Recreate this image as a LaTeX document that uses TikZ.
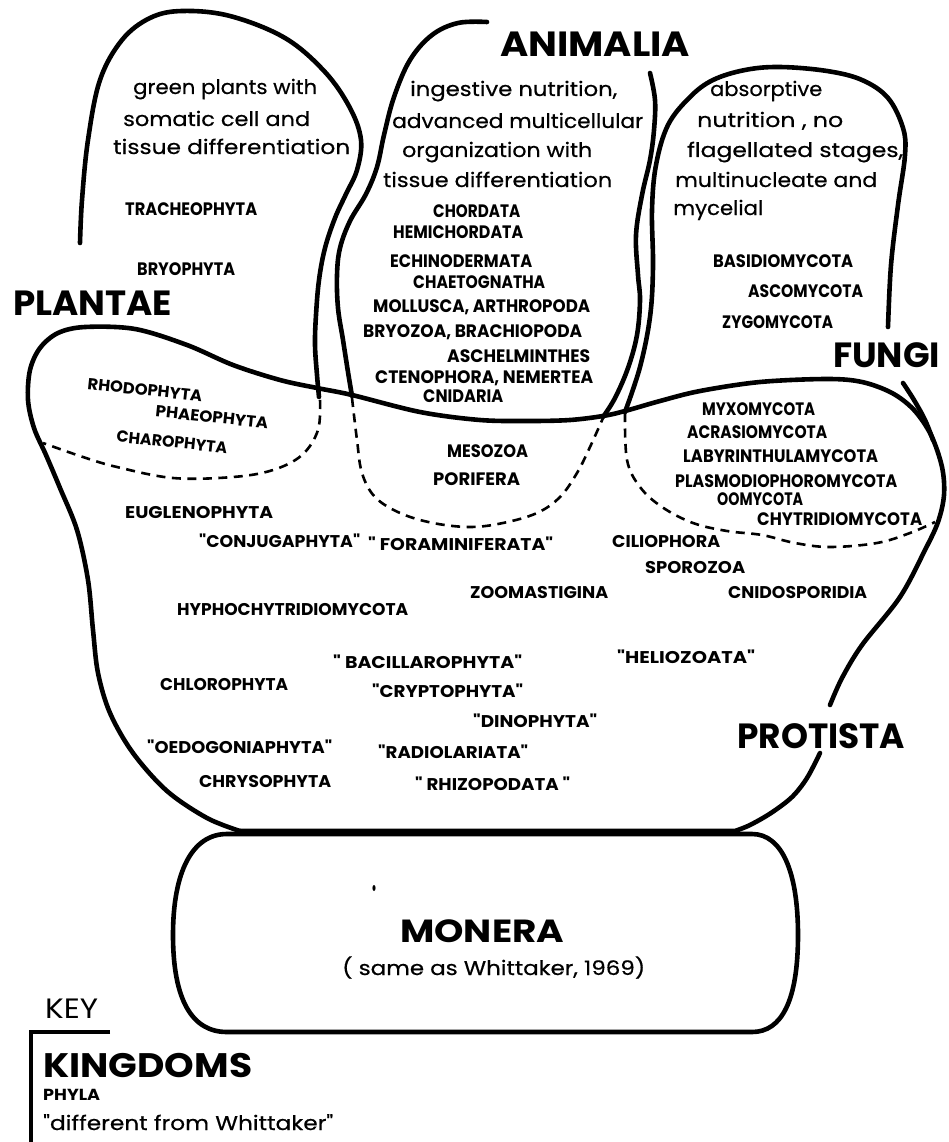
\documentclass[tikz,border=0pt]{standalone}
\usepackage{fontspec}
\usepackage{graphicx}
\newfontfamily\pop{Poppins}
\newfontfamily\popm{Poppins}[FakeBold=0.5]
\newcommand\fw[2]{\resizebox{#1pt}{\height}{#2}}
\begin{document}
\begin{tikzpicture}[x=1pt,y=-1pt,
  edge/.style={line width=4.6pt, line cap=round, line join=round},
  dsh/.style={line width=2.6pt, dash pattern=on 9pt off 6.5pt},
  kng/.style={font=\pop\bfseries\fontsize{35}{35}\selectfont, inner sep=0pt, anchor=base west},
  phy/.style={font=\pop\bfseries\fontsize{18}{18}\selectfont, inner sep=0pt, anchor=base west},
  phl/.style={font=\pop\bfseries\fontsize{17}{17}\selectfont, inner sep=0pt, anchor=base west},
  dsc/.style={font=\popm\fontsize{20}{20}\selectfont, inner sep=0pt, anchor=base west},
  tilt/.style={font=\pop\bfseries\fontsize{16}{16}\selectfont, inner sep=0pt, anchor=center, rotate=-6}]
\useasboundingbox (0,0) rectangle (948,1142);

% ---------- outlines ----------
% Plantae lobe
\draw[edge] plot[smooth, tension=0.6] coordinates {(80,243) (82,200) (88,140) (100,80) (122,40) (150,18) (182,11) (230,16) (285,38) (325,72) (350,108) (361,140) (357,170) (346,194) (335,218) (325,248) (319,280) (316,315) (315,345) (317,375) (319,397)};
% Animalia lobe
\draw[edge] plot[smooth, tension=0.6] coordinates {(487,22) (458,23) (432,35) (410,60) (394,97) (384,135) (377,167) (366,194) (350,221) (340,248) (337,275) (338,308) (343,340) (348,372) (352,396)};
\draw[edge] plot[smooth, tension=0.6] coordinates {(650,73) (655,100) (654,130) (650,160) (642,195) (636,235) (638,275) (640,300) (637,335) (628,368) (615,398) (603,417)};
% Fungi lobe
\draw[edge] plot[smooth, tension=0.6] coordinates {(625,412) (640,367) (650,317) (653,267) (652,210) (656,165) (668,125) (690,97) (713,80) (745,70) (780,67) (827,71) (862,80) (888,98) (903,128) (905,155) (898,205) (891,265) (888,327)};
\draw[edge] plot[smooth, tension=0.6] coordinates {(903,383) (914,400) (925,420) (933,440)};
% Protista
\draw[edge] plot[smooth, tension=0.55] coordinates {(240,831) (207,818) (167,791) (133,753) (110,713) (98,673) (93,630) (88,580) (77,530) (60,488) (46,455) (34,428) (28,400) (30,370) (40,348) (58,333) (85,327) (135,329) (187,345) (233,365) (280,380) (317,388) (352,395) (420,412) (480,420) (530,421) (570,420) (603,416) (625,411) (660,401) (700,391) (760,382) (827,379) (862,382) (892,393) (914,410) (931,435) (942,467) (944,495) (938,522) (925,550) (900,597) (862,645) (842,678) (830,705)};
\draw[edge] plot[smooth, tension=0.55] coordinates {(820,753) (807,778) (792,797) (771,813) (750,825) (735,831)} -- (240,831);
% Monera
\draw[edge] (227,834) -- (752,834) .. controls (782,834) and (798,872) .. (798,935) .. controls (798,1000) and (782,1032) .. (752,1032) -- (227,1032) .. controls (192,1032) and (173,1000) .. (173,935) .. controls (173,872) and (192,834) .. (227,834) -- cycle;
\fill (374,888) ellipse (1.6 and 3);

% dashed sub-boundaries
\draw[dsh] plot[smooth, tension=0.6] coordinates {(320,400) (318,430) (302,455) (273,470) (233,477) (173,478) (117,467) (83,457) (43,443)};
\draw[dsh] plot[smooth, tension=0.6] coordinates {(352,398) (357,440) (362,473) (375,497) (400,513) (433,523) (470,527) (503,523) (537,513) (560,497) (577,473) (590,447) (603,418)};
\draw[dsh] plot[smooth, tension=0.6] coordinates {(625,413) (627,460) (640,487) (662,507) (693,523) (727,531) (762,535) (795,543) (830,547) (877,543) (910,533) (935,522)};

% key bracket
\coordinate (ka) at (110,1032);
\coordinate (kb) at (31,1032);
\coordinate (kc) at (31,1145);
\draw[line width=4pt] (ka) -- (kb) -- (kc);

% ---------- kingdom names ----------
\node[kng] (plantae) at (13,315) {\fw{159}{PLANTAE}};
\node[kng] (animalia) at (500,57) {\fw{190}{ANIMALIA}};
\node[kng] (fungi) at (833,367) {\fw{107}{FUNGI}};
\node[kng] (protista) at (737,748) {\fw{168}{PROTISTA}};
\node[kng, font=\pop\bfseries\fontsize{32}{32}\selectfont] (monera) at (400,942) {\fw{164}{MONERA}};
\node[dsc] (mnote) at (342,975) {\fw{303}{( same as Whittaker, 1969)}};

% ---------- descriptions ----------
\node[dsc] (p1) at (133,94) {\fw{184}{green plants with}};
\node[dsc] (p2) at (123,126) {\fw{187}{somatic  cell and}};
\node[dsc] (p3) at (113,154) {\fw{237}{tissue  differentiation}};
\node[dsc] (a1) at (410,96) {\fw{207}{ingestive nutrition,}};
\node[dsc] (a2) at (392,128) {\fw{251}{advanced multicellular}};
\node[dsc] (a3) at (402,157) {\fw{190}{organization with}};
\node[dsc] (a4) at (383,187) {\fw{229}{tissue differentiation}};
\node[dsc] (f1) at (710,96) {\fw{112}{absorptive}};
\node[dsc] (f2) at (697,127) {\fw{146}{nutrition , no}};
\node[dsc] (f3) at (687,157) {\fw{216}{flagellated stages,}};
\node[dsc] (f4) at (675,187) {\fw{202}{multinucleate and}};
\node[dsc] (f5) at (673,215) {\fw{90}{mycelial}};

% ---------- phyla ----------
\node[phy] (tra) at (125,215) {\fw{132}{TRACHEOPHYTA}};
\node[phy] (bry) at (137,275) {\fw{98}{BRYOPHYTA}};
\node[phy] (cho) at (433,217) {\fw{87}{CHORDATA}};
\node[phy] (hem) at (393,238) {\fw{130}{HEMICHORDATA}};
\node[phy] (ech) at (390,267) {\fw{142}{ECHINODERMATA}};
\node[phy] (chae) at (413,288) {\fw{132}{CHAETOGNATHA}};
\node[phy] (mol) at (373,312) {\fw{217}{MOLLUSCA, ARTHROPODA}};
\node[phy] (bryz) at (363,337) {\fw{219}{BRYOZOA, BRACHIOPODA}};
\node[phy] (asch) at (447,362) {\fw{143}{ASCHELMINTHES}};
\node[phy] (cte) at (375,383) {\fw{218}{CTENOPHORA, NEMERTEA}};
\node[phy] (cni) at (423,402) {\fw{80}{CNIDARIA}};
\node[phy] (mes) at (447,457) {\fw{81}{MESOZOA}};
\node[phy] (por) at (433,485) {\fw{87}{PORIFERA}};
\node[phy] (bas) at (713,267) {\fw{140}{BASIDIOMYCOTA}};
\node[phy] (ascm) at (748,297) {\fw{115}{ASCOMYCOTA}};
\node[phy] (zyg) at (722,328) {\fw{111}{ZYGOMYCOTA}};
\node[phy] (myx) at (702,415) {\fw{113}{MYXOMYCOTA}};
\node[phy] (acr) at (687,438) {\fw{140}{ACRASIOMYCOTA}};
\node[phy] (laby) at (683,462) {\fw{195}{LABYRINTHULAMYCOTA}};
\node[phy] (plas) at (675,487) {\fw{222}{PLASMODIOPHOROMYCOTA}};
\node[phy] (oomy) at (717,505) {\fw{86}{OOMYCOTA}};
\node[phy] (chyt) at (757,525) {\fw{165}{CHYTRIDIOMYCOTA}};
\node[tilt] (rho) at (145,390) {\fw{115}{RHODOPHYTA}};
\node[tilt] (pha) at (212,417) {\fw{113}{PHAEOPHYTA}};
\node[tilt] (chr) at (172,442) {\fw{111}{CHAROPHYTA}};

\node[phl] (eug) at (125,518) {\fw{148}{EUGLENOPHYTA}};
\node[phl] (conj) at (199,547) {\fw{161}{"CONJUGAPHYTA"}};
\node[phl] (fora) at (368,550) {\fw{185}{" FORAMINIFERATA"}};
\node[phl] (cili) at (612,547) {\fw{108}{CILIOPHORA}};
\node[phl] (spor) at (645,573) {\fw{100}{SPOROZOA}};
\node[phl] (cnid) at (728,598) {\fw{139}{CNIDOSPORIDIA}};
\node[phl] (zoom) at (470,598) {\fw{138}{ZOOMASTIGINA}};
\node[phl] (hyph) at (177,615) {\fw{231}{HYPHOCHYTRIDIOMYCOTA}};
\node[phl] (baci) at (333,668) {\fw{189}{" BACILLAROPHYTA"}};
\node[phl] (heli) at (617,663) {\fw{138}{"HELIOZOATA"}};
\node[phl] (chlo) at (160,690) {\fw{128}{CHLOROPHYTA}};
\node[phl] (cryp) at (372,697) {\fw{151}{"CRYPTOPHYTA"}};
\node[phl] (dino) at (473,727) {\fw{124}{"DINOPHYTA"}};
\node[phl] (oedo) at (147,753) {\fw{185}{"OEDOGONIAPHYTA"}};
\node[phl] (radi) at (378,758) {\fw{150}{"RADIOLARIATA"}};
\node[phl] (chry) at (199,787) {\fw{132}{CHRYSOPHYTA}};
\node[phl] (rhiz) at (415,790) {\fw{155}{" RHIZOPODATA "}};

% ---------- key ----------
\node[dsc, font=\pop\fontsize{28}{28}\selectfont] (key) at (45,1018) {\fw{53}{KEY}};
\node[kng, font=\pop\bfseries\fontsize{34}{34}\selectfont] (kking) at (43,1077) {\fw{209}{KINGDOMS}};
\node[phl, font=\pop\bfseries\fontsize{16}{16}\selectfont] (kphyla) at (43,1100) {\fw{57}{PHYLA}};
\node[dsc] (kdiff) at (43,1130) {\fw{290}{"different from Whittaker"}};
\end{tikzpicture}
\end{document}
